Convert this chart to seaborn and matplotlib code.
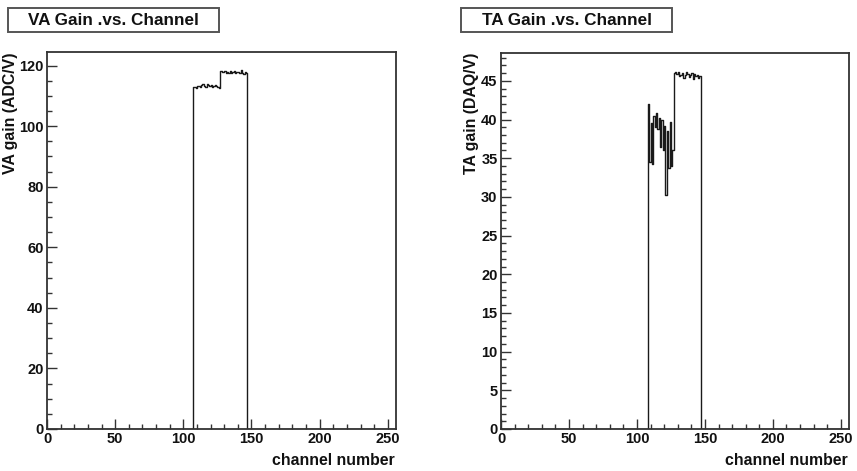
import numpy as np
import pandas as pd
import matplotlib
matplotlib.use("Agg")
import matplotlib.pyplot as plt
from matplotlib.patches import Rectangle
from matplotlib.ticker import MultipleLocator
import seaborn as sns

# ---------------- data ----------------
n_channels = 256
va_start = 107
va_gain = [112.8, 113.0, 112.7, 113.2, 113.4, 113.0, 113.6, 113.8, 113.3, 113.1,
           113.9, 113.5, 113.2, 113.6, 113.0, 113.4, 113.7, 113.2, 112.9, 112.6,
           118.2, 118.0, 117.8, 118.1, 117.6, 117.9, 117.7, 118.3, 117.5, 117.8,
           118.2, 117.4, 117.9, 118.0, 117.6, 118.4, 117.7, 117.3, 117.9, 117.6]
ta_start = 108
ta_gain = [42.0, 34.5, 39.5, 34.3, 40.5, 39.0, 40.8, 38.8, 40.2, 36.5,
           40.0, 36.0, 39.2, 30.2, 38.5, 33.8, 39.7, 34.0, 36.0,
           46.0, 46.1, 45.9, 46.2, 45.6, 45.8, 46.0, 45.4, 45.7, 46.1,
           45.9, 45.5, 45.8, 46.0, 45.3, 45.9, 45.6, 45.8, 45.4, 45.6]
x_ticks = [0, 50, 100, 150, 200, 250]
va_yticks = [0, 20, 40, 60, 80, 100, 120]
ta_yticks = [0, 5, 10, 15, 20, 25, 30, 35, 40, 45]

titles = ["VA Gain .vs. Channel", "TA Gain .vs. Channel"]
ylabels = ["VA gain (ADC/V)", "TA gain (DAQ/V)"]
xlabel = "channel number"

channels = np.arange(n_channels)
va_full = np.zeros(n_channels)
va_full[va_start:va_start + len(va_gain)] = va_gain
ta_full = np.zeros(n_channels)
ta_full[ta_start:ta_start + len(ta_gain)] = ta_gain
df = pd.DataFrame({"channel": channels, "va": va_full, "ta": ta_full})

# ---------------- style ----------------
sns.set_style("white")
plt.rcParams["font.family"] = ["Liberation Sans", "DejaVu Sans"]
plt.rcParams["font.weight"] = "bold"
FS = 11.4
TFS = 10.5
TXT = "#111111"

fig = plt.figure(figsize=(8.57, 4.71), dpi=100)
W, H = 857, 471

def px_axes(x0, y0, x1, y1):
    return fig.add_axes([x0 / W, 1 - y1 / H, (x1 - x0) / W, (y1 - y0) / H])

ax1 = px_axes(47, 52, 396, 429)
ax2 = px_axes(501, 53, 849, 429)

specs = [
    (ax1, "va", (0, 124.5), va_yticks, 5, 8, titles[0], ylabels[0], -0.082),
    (ax2, "ta", (0, 48.6), ta_yticks, 1, 461, titles[1], ylabels[1], -0.063),
]

for ax, col, ylim, yt, ymin, tbx, title, ylab, lx in specs:
    sns.histplot(data=df, x="channel", weights=col, bins=n_channels,
                 binrange=(0, n_channels), element="step", fill=False,
                 color="#1a1a1a", linewidth=1.0, ax=ax)
    ax.set_xlim(0, 256)
    ax.set_ylim(*ylim)
    ax.set_xticks(x_ticks)
    ax.xaxis.set_minor_locator(MultipleLocator(10))
    ax.set_yticks(yt)
    ax.yaxis.set_minor_locator(MultipleLocator(ymin))
    ax.tick_params(axis="both", which="both", bottom=True, left=True,
                   top=False, right=False)
    ax.tick_params(axis="both", which="major", direction="in", length=7,
                   width=1.0, color="#333333", labelsize=TFS, labelcolor=TXT, pad=2.5)
    ax.tick_params(axis="both", which="minor", direction="in", length=3.8,
                   width=1.0, color="#333333")
    for lab in ax.get_xticklabels() + ax.get_yticklabels():
        lab.set_fontweight("bold")
    for s in ax.spines.values():
        s.set_visible(True)
        s.set_color("#333333")
        s.set_linewidth(1.3)
    ax.set_ylabel(ylab, loc="top", fontsize=FS, fontweight="bold", color=TXT)
    ax.yaxis.set_label_coords(lx, 1.0)
    ax.set_xlabel(xlabel, loc="right", fontsize=FS, fontweight="bold", color=TXT,
                  va="baseline")
    ax.xaxis.set_label_coords(0.995, -0.095)
    ax.grid(False)
    # title box
    bw, bh = 211, 24
    fig.patches.append(Rectangle((tbx / W, 1 - 32 / H), bw / W, bh / H,
                                 transform=fig.transFigure, facecolor="white",
                                 edgecolor="#555555", linewidth=1.4))
    fig.text((tbx + bw / 2) / W, 1 - 20.5 / H, title, ha="center", va="center",
             fontsize=12.3, fontweight="bold", color=TXT)

fig.savefig("out.png", dpi=100)
